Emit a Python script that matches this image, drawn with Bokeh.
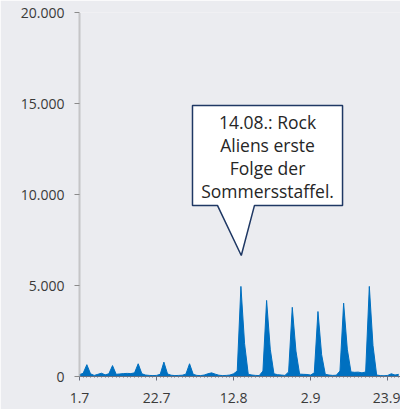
from bokeh.plotting import figure
from bokeh.models import FixedTicker, ColumnDataSource
from bokeh.core.properties import value
from bokeh.embed import file_html
from bokeh.resources import INLINE

# Daily views, day 0 = 1.7. (1 July) .. 87
days = list(range(88))
views = [100, 180, 650, 150, 60, 120, 180, 90, 150, 600,
         120, 140, 160, 170, 160, 200, 700, 150, 80, 60,
         50, 60, 120, 790, 140, 70, 50, 60, 70, 130,
         700, 120, 60, 50, 80, 150, 200, 130, 70, 50,
         60, 80, 150, 300, 4950, 1800, 120, 80, 60, 50,
         300, 4180, 1500, 150, 100, 80, 60, 250, 3800, 1400,
         130, 120, 110, 80, 200, 3570, 1200, 120, 80, 60,
         70, 300, 4030, 1500, 250, 230, 240, 200, 250, 4950,
         1700, 80, 50, 40, 60, 150, 80, 120]

x_tick_pos = [0, 21, 42, 63, 84]
x_tick_labels = ["1.7", "22.7", "12.8", "2.9", "23.9"]
y_tick_pos = [0, 5000, 10000, 15000, 20000]
y_tick_labels = ["0", "5.000", "10.000", "15.000", "20.000"]

callout_lines = ["14.08.: Rock", "Aliens erste", "Folge der", "Sommersstaffel."]
callout_day = 44  # 14.08.

BG = "#EBECF0"
BLUE = "#0070C0"
TXT = "#3A3A3A"
FONT = "Open Sans"

p = figure(width=400, height=409, output_backend="svg", toolbar_location=None,
           x_range=(0, 87.5), y_range=(0, 20000),
           min_border_left=79, min_border_right=0, min_border_top=12, min_border_bottom=33)
p.background_fill_color = BG
p.border_fill_color = BG
p.outline_line_color = None
p.grid.visible = False

src = ColumnDataSource(dict(x=days, y=views))
p.varea(x="x", y1=0, y2="y", source=src, fill_color=BLUE)
p.line(x="x", y="y", source=src, line_color=BLUE, line_width=1)

# axes
xa = p.xaxis[0]
xa.ticker = FixedTicker(ticks=x_tick_pos, minor_ticks=days)
xa.major_label_overrides = {t: l for t, l in zip(x_tick_pos, x_tick_labels)}
xa.axis_line_color = "#6A7080"
xa.major_tick_line_color = "#6A7080"
xa.minor_tick_line_color = "#6A7080"
xa.major_tick_out = 4
xa.major_tick_in = 0
xa.minor_tick_out = 1
xa.minor_tick_in = 0
xa.major_label_standoff = 12
xa.major_label_text_font = FONT
xa.major_label_text_font_size = "14px"
xa.major_label_text_color = TXT

ya = p.yaxis[0]
ya.ticker = FixedTicker(ticks=y_tick_pos, minor_ticks=[])
ya.major_label_overrides = {t: l for t, l in zip(y_tick_pos, y_tick_labels)}
ya.axis_line_color = "#9A9A9A"
ya.axis_line_width = 2
ya.axis_line_dash = "1 1"
ya.major_tick_line_color = "#8A8A8A"
ya.major_tick_out = 5
ya.major_tick_in = 0
ya.major_label_standoff = 10
ya.major_label_text_font = FONT
ya.major_label_text_font_size = "14px"
ya.major_label_text_color = TXT

# callout anchored on the peak of 14.08.
peak = views[callout_day]
bx0, bx1 = callout_day - 13.2, callout_day + 27.7
by0, by1 = peak + 4450, peak + 9940
px0, px1 = callout_day - 6.4, callout_day + 3.7
tip = (callout_day + 0.1, peak + 1700)
xs = [bx0, bx1, bx1, px1, tip[0], px0, bx0]
ys = [by1, by1, by0, by0, tip[1], by0, by0]
p.patch(xs, ys, fill_color="white", line_color="#1F3864", line_width=1.5)

cx = (bx0 + bx1) / 2
ty = [by1 - 930 - i * 1250 for i in range(len(callout_lines))]
p.text(x=[cx] * len(callout_lines), y=ty, text=callout_lines,
       text_font=value(FONT), text_font_size="17.5px", text_color="#262626",
       text_align="center", text_baseline="middle")

open("out.html", "w").write(file_html(p, INLINE))
